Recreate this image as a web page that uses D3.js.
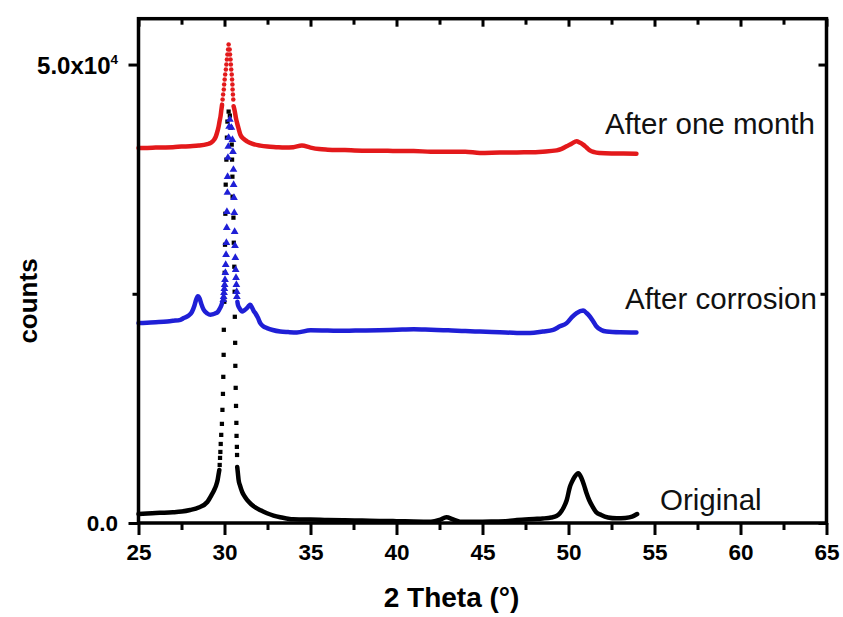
<!DOCTYPE html>
<html><head><meta charset="utf-8">
<script src="https://cdn.jsdelivr.net/npm/d3@7"></script>
<style>
body{margin:0;background:#fff}
svg{display:block}
text{font-family:"Liberation Sans",Arial,Helvetica,sans-serif}
</style>
</head><body>
<svg id="chart" width="843" height="617"></svg>
<script>
// ---------------- data (2θ in degrees, counts) ----------------
const xTicks = [25, 30, 35, 40, 45, 50, 55, 60, 65];
const xMinorTicks = [27.5, 32.5, 37.5, 42.5, 47.5, 52.5, 57.5, 62.5];
const yTicks = [0, 50000];
const yMinorTicks = [25000];
const seriesNames = ["Original", "After corrosion", "After one month"];

// Original (black squares)
const originalLeft = [[25.0,980],[25.5,1040],[26.0,1090],[26.5,1120],[27.0,1170],[27.5,1250],[28.0,1420],[28.5,1690],[29.0,2290],[29.25,3060],[29.4,3600],[29.5,4040],[29.6,4690],[29.65,5240],[29.70,5790]];
const originalPeak = [[29.72,6330],[29.74,7100],[29.76,7750],[29.78,8620],[29.81,9610],[29.85,10810],[29.88,12340],[29.91,14080],[29.93,15940],[29.95,18340],[29.96,21070],[29.99,24130],[30.01,27290],[30.03,30350],[30.05,33730],[30.07,36900],[30.11,39630],[30.14,42030],[30.17,43780],[30.24,44870],
  [30.31,44430],[30.37,43120],[30.42,41270],[30.44,39630],[30.46,37770],[30.47,35590],[30.52,33300],[30.54,30570],[30.57,27950],[30.59,25220],[30.60,22490],[30.62,19650],[30.63,17140],[30.65,14740],[30.67,12770],[30.69,10920],[30.70,9500],[30.72,8300],[30.73,7420]];
const originalRight = [[30.74,6110],[30.78,5400],[30.82,4690],[30.9,4100],[31.02,3420],[31.15,2950],[31.31,2510],[31.55,2050],[31.79,1710],[32.1,1380],[32.47,1060],[32.85,800],[33.24,620],[33.6,500],[34.0,400],[34.5,390],[35,380],[36,330],[37,300],[38,260],[39,220],[40,200],[41,160],[42,140],[42.5,330],[42.9,620],[43.3,380],[43.7,140],[44.5,140],[45.5,160],[46.5,220],[47,330],[48,440],[48.5,490],[49,600],[49.3,760],[49.5,1060],[49.7,1640],[49.9,2510],[50.08,3930],[50.2,4480],[50.35,5020],[50.57,5430],[50.75,4910],[50.9,4150],[51.05,3240],[51.2,2510],[51.4,1780],[51.6,1200],[51.9,870],[52.3,600],[52.8,510],[53.3,550],[53.7,690],[53.99,980]];

// After corrosion (blue triangles)
const corrosionLeft = [[25,21800],[25.5,21850],[26,21900],[26.67,21980],[27.0,22050],[27.44,22160],[27.63,22350],[27.9,22600],[28.1,23000],[28.25,23700],[28.35,24350],[28.45,24730],[28.55,24500],[28.65,23900],[28.79,23250],[29.0,22850],[29.18,22710],[29.3,22750],[29.45,22850],[29.6,23000],[29.7,23300],[29.8,23650],[29.86,23990]];
const corrosionPeak = [[29.93,24350],[29.95,24670],[29.97,25110],[29.99,25550],[30.01,25980],[30.03,26530],[30.05,27290],[30.07,28170],[30.09,29260],[30.11,30570],[30.13,32210],[30.14,33950],[30.17,36030],[30.18,37770],[30.20,39850],[30.22,41050],[30.24,42030],[30.27,43230],[30.31,44000],
  [30.40,43120],[30.46,41810],[30.49,40500],[30.52,38540],[30.53,36900],[30.55,35480],[30.57,33840],[30.59,31770],[30.61,30240],[30.63,28930],[30.65,27620],[30.67,26750],[30.69,25980],[30.71,25220],[30.72,24670]];
const corrosionRight = [[30.75,24130],[30.78,23800],[30.85,23500],[30.95,23200],[31.02,23070],[31.15,23200],[31.31,23440],[31.42,23700],[31.5,23800],[31.6,23500],[31.7,23100],[31.79,22890],[31.95,22350],[32.08,21800],[32.25,21450],[32.47,21260],[32.8,21050],[33.24,20880],[33.7,20820],[34.21,20780],[35,21020],[36,20990],[37,20960],[38,21000],[39,21020],[40,21070],[41,21120],[42,21070],[43,21020],[44,20930],[44.85,20880],[46,20800],[47,20730],[47.76,20710],[48.5,20880],[49.11,21070],[49.5,21450],[49.89,21800],[50.2,22450],[50.47,22890],[50.85,23180],[51.05,22900],[51.24,22520],[51.45,21950],[51.63,21430],[51.9,21050],[52.21,20880],[53,20800],[53.95,20780]];

// After one month (red circles)
const monthLeft = [[25,40910],[25.5,40910],[26,40940],[26.5,40960],[27,40990],[27.5,41050],[28,41100],[28.5,41160],[29,41320],[29.2,41450],[29.4,41810],[29.5,42170],[29.6,42790],[29.66,43260],[29.72,43890],[29.77,44360],[29.82,45090],[29.86,45630]];
const monthPeak = [[29.89,46180],[29.92,46730],[29.96,47270],[29.98,47820],[30.01,48360],[30.04,48910],[30.08,49450],[30.11,50000],[30.14,50550],[30.17,51090],[30.21,51640],[30.24,52180],
  [30.30,51640],[30.32,51090],[30.35,50550],[30.37,50000],[30.39,49450],[30.42,48910],[30.44,48360],[30.46,47820],[30.47,47270],[30.49,46730],[30.51,46180]];
const monthRight = [[30.53,45450],[30.6,44870],[30.66,44210],[30.73,43640],[30.82,43010],[30.92,42360],[31.1,41920],[31.31,41630],[31.6,41380],[32.08,41160],[32.5,41050],[33,40990],[33.5,40940],[34,40990],[34.5,41160],[35,40940],[35.5,40780],[36,40720],[37,40670],[38,40610],[39,40610],[40,40560],[41,40560],[42,40500],[43,40500],[44,40500],[44.85,40360],[46,40400],[47,40420],[47.76,40430],[48.5,40500],[49.31,40640],[49.6,40800],[49.89,41080],[50.2,41400],[50.47,41630],[50.65,41500],[50.85,41270],[51.05,40950],[51.24,40640],[51.5,40450],[51.82,40360],[52.5,40300],[53.2,40290],[53.95,40280]];

// ---------------- drawing ----------------
const svg = d3.select("#chart");
const L = 138.5, R = 826.5, T = 18.7, B = 523;
const x = d3.scaleLinear().domain([25, 65]).range([L, R]);
const y = d3.scaleLinear().domain([0, 55000]).range([B, T]);

const series = [
  {name: seriesNames[0], color: "#000000", sym: d3.symbolSquare, size: 18, parts: [originalLeft, originalRight], peak: originalPeak, lx: 660, ly: 510},
  {name: seriesNames[1], color: "#1f1fd6", sym: d3.symbolTriangle, size: 26, parts: [corrosionLeft, corrosionRight], peak: corrosionPeak, lx: 625, ly: 309},
  {name: seriesNames[2], color: "#e3191b", sym: d3.symbolCircle, size: 16, parts: [monthLeft, monthRight], peak: monthPeak, lx: 605, ly: 134}
];

const line = d3.line().x(d => x(d[0])).y(d => y(d[1])).curve(d3.curveMonotoneX);

series.forEach(s => {
  const g = svg.append("g");
  s.parts.forEach(p => {
    g.append("path").datum(p).attr("d", line)
      .attr("fill", "none").attr("stroke", s.color)
      .attr("stroke-width", 4.5).attr("stroke-linejoin", "round").attr("stroke-linecap", "round");
  });
  g.selectAll("path.m").data(s.peak).join("path").attr("class", "m")
    .attr("transform", d => `translate(${x(d[0])},${y(d[1])})`)
    .attr("d", d3.symbol().type(s.sym).size(s.size))
    .attr("fill", s.color);
  svg.append("text").attr("x", s.lx).attr("y", s.ly)
    .attr("font-size", 29.5).attr("fill", "#111").text(s.name);
});

// frame
svg.append("rect").attr("x", L).attr("y", T).attr("width", R - L).attr("height", B - T)
  .attr("fill", "none").attr("stroke", "#000").attr("stroke-width", 3.5);

// bottom axis
const xAxis = svg.append("g").attr("transform", `translate(0,${B})`)
  .call(d3.axisBottom(x).tickValues(xTicks).tickSize(12).tickPadding(9).tickFormat(d3.format("d")));
const xAxisMinor = svg.append("g").attr("transform", `translate(0,${B})`)
  .call(d3.axisBottom(x).tickValues(xMinorTicks).tickSize(7).tickFormat(""));
// top (inward)
const xTop = svg.append("g").attr("transform", `translate(0,${T})`)
  .call(d3.axisBottom(x).tickValues(xTicks).tickSize(8).tickFormat(""));
const xTopMinor = svg.append("g").attr("transform", `translate(0,${T})`)
  .call(d3.axisBottom(x).tickValues(xMinorTicks).tickSize(6).tickFormat(""));
// left axis
const yAxis = svg.append("g").attr("transform", `translate(${L},0)`)
  .call(d3.axisLeft(y).tickValues(yTicks).tickSize(10).tickPadding(10).tickFormat(""));
const yAxisMinor = svg.append("g").attr("transform", `translate(${L},0)`)
  .call(d3.axisLeft(y).tickValues(yMinorTicks).tickSize(6).tickFormat(""));
// right axis (inward)
const yRight = svg.append("g").attr("transform", `translate(${R},0)`)
  .call(d3.axisRight(y).tickValues(yTicks).tickSize(-8).tickFormat(""));
const yRightMinor = svg.append("g").attr("transform", `translate(${R},0)`)
  .call(d3.axisRight(y).tickValues(yMinorTicks).tickSize(-6).tickFormat(""));

[xAxis, xAxisMinor, xTop, xTopMinor, yAxis, yAxisMinor, yRight, yRightMinor].forEach(a => {
  a.select(".domain").remove();
  a.selectAll("line").attr("stroke", "#000").attr("stroke-width", 3);
});
xAxis.selectAll("text").attr("font-size", 22.5).attr("font-weight", "bold").attr("fill", "#000")
  .attr("font-family", '"Liberation Sans",Arial,sans-serif');

// y tick labels
svg.append("text").attr("x", 118).attr("y", y(0)).attr("dy", "0.34em")
  .attr("text-anchor", "end").attr("font-size", 22.5).attr("font-weight", "bold").text("0.0");
const topLabel = svg.append("text").attr("x", 118).attr("y", y(50000) + 9)
  .attr("text-anchor", "end").attr("font-size", 24).attr("font-weight", "bold");
topLabel.append("tspan").text("5.0x10");
topLabel.append("tspan").attr("dy", -10).attr("font-size", 13.5).text("4");

// axis titles
svg.append("text").attr("x", 451.5).attr("y", 607).attr("text-anchor", "middle")
  .attr("font-size", 28).attr("font-weight", "bold").text("2 Theta (°)");
svg.append("text").attr("transform", "translate(37,301) rotate(-90)").attr("text-anchor", "middle")
  .attr("font-size", 26).attr("font-weight", "bold").text("counts");
</script>
</body></html>
